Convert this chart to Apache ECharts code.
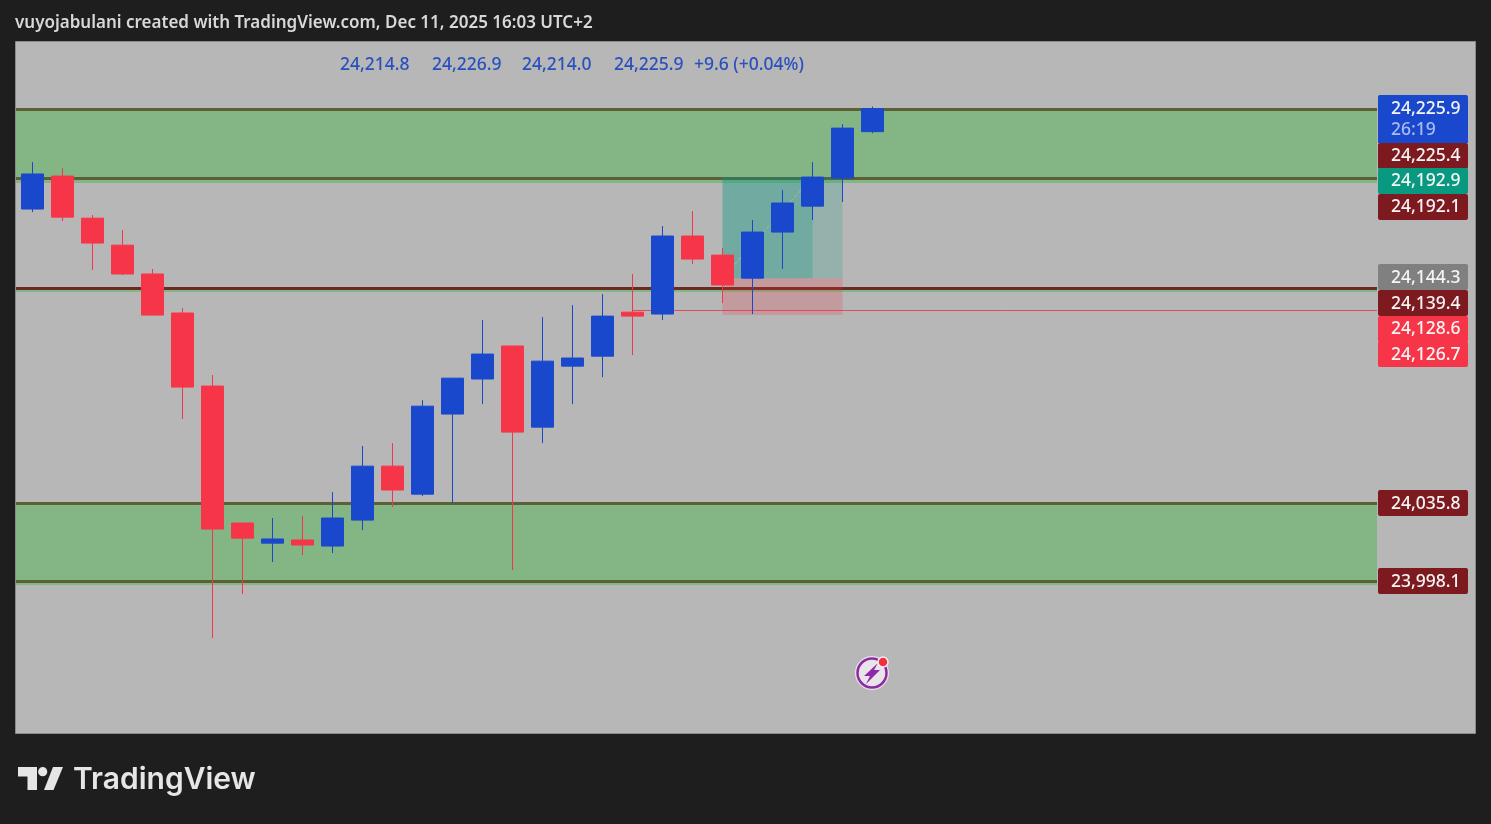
<!DOCTYPE html>
<html>
<head>
<meta charset="utf-8">
<title>TradingView chart</title>
<script src="https://cdn.jsdelivr.net/npm/echarts@6/dist/echarts.min.js"></script>
<style>
html, body { margin: 0; padding: 0; background: #1e1e1e; }
#chart { width: 1491px; height: 824px; }
</style>
</head>
<body>
<div id="chart"></div>
<script>
// candles, oldest first
const opens  = [24177.5, 24193.4, 24173.1, 24160.1, 24146.2, 24127.4, 24092.2, 24026.2, 24016.5, 24018.0, 24015.1, 24027.6, 24053.6, 24040.1, 24078.7, 24095.6, 24111.5, 24072.4, 24101.8, 24106.6, 24127.8, 24126.9, 24164.5, 24155.3, 24144.2, 24166.4, 24178.9, 24192.4, 24214.8];
const closes = [24194.4, 24173.6, 24161.1, 24146.2, 24126.4, 24091.7, 24023.3, 24018.9, 24018.5, 24015.6, 24028.6, 24053.6, 24042.1, 24082.5, 24096.0, 24107.6, 24070.0, 24104.2, 24105.7, 24125.9, 24125.9, 24164.5, 24153.4, 24140.9, 24166.4, 24180.4, 24192.9, 24216.5, 24225.9];
const lows   = [24176.0, 24171.7, 24148.1, 24145.7, 24126.4, 24076.3, 23970.7, 23991.9, 24007.4, 24010.7, 24011.7, 24022.8, 24033.9, 24039.2, 24035.8, 24083.5, 24003.5, 24064.7, 24083.5, 24096.5, 24107.1, 24124.0, 24151.0, 24132.2, 24126.9, 24148.6, 24172.2, 24180.9, 24214.0];
const highs  = [24200.1, 24197.2, 24174.6, 24167.4, 24148.6, 24129.8, 24097.5, 24026.2, 24028.6, 24029.5, 24041.1, 24063.3, 24064.7, 24085.4, 24096.0, 24124.0, 24111.5, 24125.4, 24131.2, 24136.5, 24146.2, 24169.3, 24176.5, 24158.7, 24172.2, 24186.6, 24200.1, 24218.4, 24226.9];

// zones drawn on the chart [top price, bottom price]
const greenZones = [[24225.4, 24190.0], [24139.4, 24137.5], [24035.8, 23996.3]];
const zoneLines = [24225.4, 24192.1, 24035.8, 23998.1];
const redZoneLine = [24139.4];
const lastPriceLine = [24128.6];

// long position tool
const positionStartBar = [23];
const positionEndBar = [27];
const positionFilledBar = [26];
const positionTop = [24192.9];
const positionEntry = [24144.2];
const positionStop = [24126.4];

// text
const titleText = 'vuyojabulani created with TradingView.com, Dec 11, 2025 16:03 UTC+2';
const legendTexts = ['24,214.8', '24,226.9', '24,214.0', '24,225.9', '+9.6 (+0.04%)'];
const tagTexts = ['24,225.9', '24,225.4', '24,192.9', '24,192.1', '24,144.3', '24,139.4', '24,128.6', '24,126.7', '24,035.8', '23,998.1'];
const countdownText = ['26:19'];

const BLUE = '#1a48cc';
const RED = '#f73548';
const DARKRED = '#7d1a1f';
const FONT = '"Noto Sans", sans-serif';

const candleData = opens.map((o, i) => [i, o, closes[i], lows[i], highs[i]]);

// layout of the tags on the price scale: [text index, center y, color]
const tagLayout = [
  [0, 109, BLUE], [1, 156, DARKRED], [2, 181, '#099981'], [3, 207, DARKRED],
  [4, 278, '#808080'], [5, 304, DARKRED], [6, 329, RED], [7, 355, RED],
  [8, 504, DARKRED], [9, 582, DARKRED]
];
const tagBoxY = [143, 168, 194, 264, 290, 316, 341, 490, 568];
const legendX = [340, 432, 522, 614, 694];

const graphics = [
  { type: 'rect', z: 0, shape: { x: 15.5, y: 41.5, width: 1460, height: 692 },
    style: { fill: '#b7b7b7', stroke: '#8a8a8a', lineWidth: 1 } },
  { type: 'text', z: 100, x: 15, y: 23, style: { text: titleText, fill: '#d8d8d8', font: '600 17px ' + FONT, verticalAlign: 'middle' } },
  // blue tag has 2 lines
  { type: 'rect', z: 100, shape: { x: 1378, y: 95, width: 90, height: 48, r: [2, 2, 0, 0] }, style: { fill: BLUE } },
  { type: 'text', z: 102, x: 1391, y: 130, style: { text: countdownText[0], fill: '#a9bbf0', font: '500 17.5px ' + FONT, verticalAlign: 'middle' } }
];
legendTexts.forEach((t, i) => {
  graphics.push({ type: 'text', z: 100, x: legendX[i], y: 65,
    style: { text: t, fill: '#2a50bd', font: '500 17.5px ' + FONT, verticalAlign: 'middle' } });
});
tagLayout.forEach((l, i) => {
  if (i > 0) {
    graphics.push({ type: 'rect', z: 100, shape: { x: 1378, y: tagBoxY[i - 1], width: 90, height: 26, r: 2 }, style: { fill: l[2] } });
  }
  graphics.push({ type: 'text', z: 102, x: 1391, y: l[1],
    style: { text: tagTexts[l[0]], fill: '#f5f5f5', font: '500 17.5px ' + FONT, verticalAlign: 'middle' } });
});
// logo
graphics.push(
  { type: 'polygon', z: 100, shape: { points: [[18, 767], [37, 767], [37, 790], [27.5, 790], [27.5, 776.5], [18, 776.5]] }, style: { fill: '#e6e6e6' } },
  { type: 'circle', z: 100, shape: { cx: 42.7, cy: 771.7, r: 4.6 }, style: { fill: '#e6e6e6' } },
  { type: 'polygon', z: 100, shape: { points: [[53, 767], [63, 767], [53.5, 790], [44, 790]] }, style: { fill: '#e6e6e6' } },
  { type: 'text', z: 100, x: 73, y: 780, style: { text: 'TradingView', fill: '#e6e6e6', font: '600 30px Inter, sans-serif', verticalAlign: 'middle' } }
);
// lightning badge
graphics.push(
  { type: 'circle', z: 100, shape: { cx: 872, cy: 673, r: 17 }, style: { fill: '#e8e4e8' } },
  { type: 'circle', z: 101, shape: { cx: 872, cy: 673, r: 14.5 }, style: { fill: 'none', stroke: '#8e2aa8', lineWidth: 2.5 } },
  { type: 'polygon', z: 101, shape: { points: [[878, 663], [864, 676], [870, 676], [866, 684], [880, 670], [874, 670]] }, style: { fill: '#8e2aa8' } },
  { type: 'circle', z: 102, shape: { cx: 883, cy: 662, r: 5 }, style: { fill: '#f0303f', stroke: '#f2f0f2', lineWidth: 1.5 } }
);

const chart = echarts.init(document.getElementById('chart'));
chart.setOption({
  backgroundColor: '#1e1e1e',
  animation: false,
  graphic: graphics,
  grid: { left: 16, right: 114, top: 42, bottom: 91 },
  xAxis: { type: 'value', min: -0.55, max: 44.8166, show: false },
  yAxis: { type: 'value', min: 23925, max: 24258, show: false, scale: true },
  series: [
    {
      type: 'line', data: [], z: 1, silent: true,
      markArea: {
        silent: true, z: 1,
        itemStyle: { color: '#84b584', opacity: 1 },
        data: greenZones.map(z => [{ yAxis: z[0] }, { yAxis: z[1] }])
      }
    },
    {
      type: 'line', data: [], z: 2, silent: true,
      markLine: {
        silent: true, symbol: 'none', z: 2, label: { show: false },
        data: [
          ...zoneLines.map(v => ({ yAxis: v, lineStyle: { color: '#5c6035', width: 3, type: 'solid' } })),
          ...redZoneLine.map(v => ({ yAxis: v, lineStyle: { color: '#6b2a22', width: 3, type: 'solid' } })),
          [{ xAxis: 20, yAxis: lastPriceLine[0], lineStyle: { color: '#d9505c', width: 1, type: 'solid' } }, { x: 1377, yAxis: lastPriceLine[0] }]
        ]
      }
    },
    {
      type: 'line', data: [], z: 3, silent: true,
      markArea: {
        silent: true, z: 3,
        data: [
          [{ xAxis: positionStartBar[0], yAxis: positionTop[0], itemStyle: { color: 'rgba(8,153,129,0.2)' } }, { xAxis: positionEndBar[0], yAxis: positionEntry[0] }],
          [{ xAxis: positionStartBar[0], yAxis: positionTop[0], itemStyle: { color: 'rgba(8,153,129,0.25)' } }, { xAxis: positionFilledBar[0], yAxis: positionEntry[0] }],
          [{ xAxis: positionStartBar[0], yAxis: positionEntry[0], itemStyle: { color: 'rgba(242,54,69,0.22)' } }, { xAxis: positionEndBar[0], yAxis: positionStop[0] }]
        ]
      },
      markLine: {
        silent: true, symbol: 'none', z: 4, label: { show: false },
        data: [
          [{ xAxis: positionStartBar[0], yAxis: positionEntry[0], lineStyle: { color: '#a9b5b2', width: 1, type: 'dashed' } }, { xAxis: positionFilledBar[0], yAxis: positionTop[0] }]
        ]
      }
    },
    {
      type: 'candlestick',
      z: 10,
      barWidth: 22,
      silent: true,
      dimensions: ['bar', 'open', 'close', 'lowest', 'highest'],
      encode: { x: 'bar', y: ['open', 'close', 'lowest', 'highest'] },
      itemStyle: { color: BLUE, color0: RED, borderColor: BLUE, borderColor0: RED, borderWidth: 1 },
      data: candleData
    }
  ]
});
</script>
</body>
</html>
